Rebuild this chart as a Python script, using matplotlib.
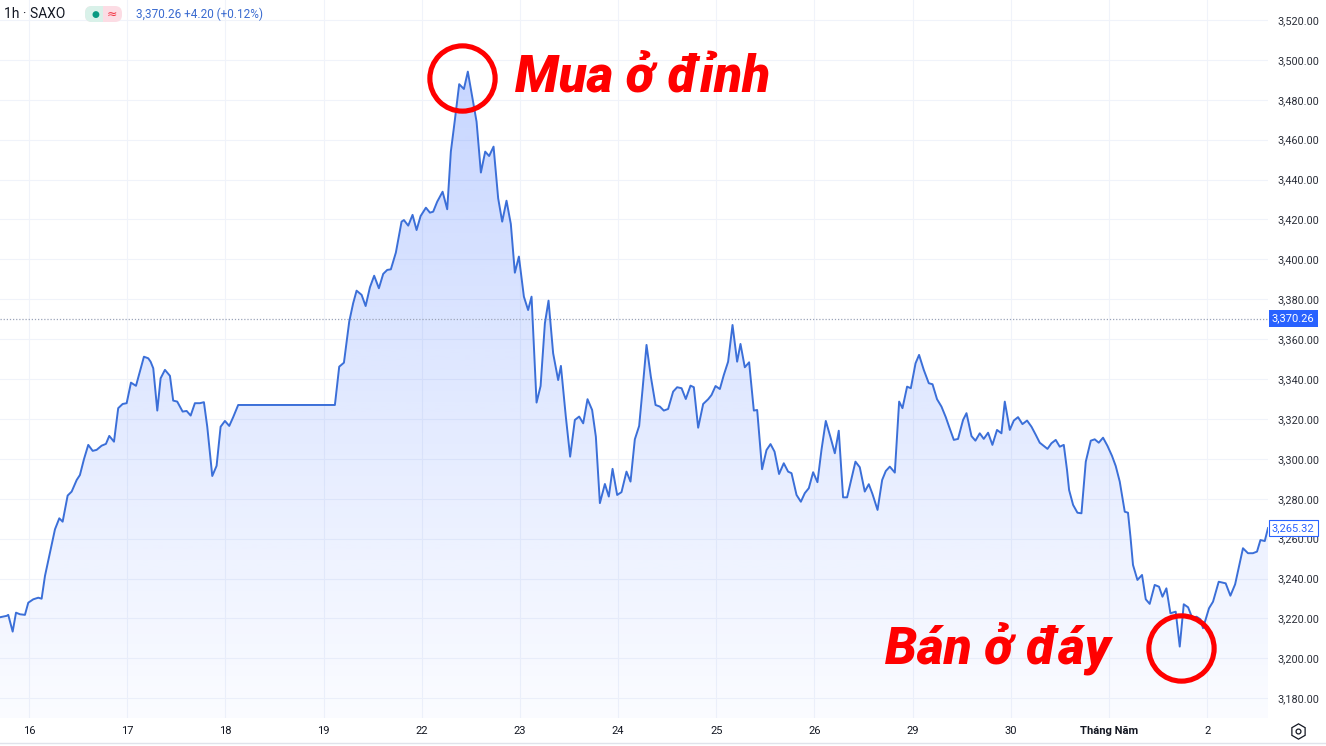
import numpy as np
import matplotlib.pyplot as plt
from matplotlib.patches import Polygon, FancyBboxPatch, Rectangle
from matplotlib.lines import Line2D
from matplotlib.transforms import offset_copy, blended_transform_factory, IdentityTransform
from matplotlib.colors import to_rgb

# 1h SAXO chart, time in trading days from the "16" tick, price in USD
t = [-0.295, -0.227, -0.211, -0.166, -0.132, -0.092, -0.041, -0.007, 0.044, 0.095,
     0.129, 0.163, 0.214, 0.265, 0.309, 0.343, 0.394, 0.435, 0.486, 0.519,
     0.560, 0.604, 0.649, 0.689, 0.740, 0.784, 0.818, 0.866, 0.909, 0.954,
     0.995, 1.039, 1.090, 1.171, 1.215, 1.239, 1.266, 1.307, 1.341, 1.385,
     1.436, 1.469, 1.510, 1.565, 1.606, 1.647, 1.690, 1.741, 1.782, 1.816,
     1.867, 1.911, 1.952, 1.996, 2.040, 2.080, 2.131, 3.116,
     3.160, 3.208, 3.262, 3.302, 3.337, 3.388, 3.429, 3.473, 3.516, 3.564,
     3.608, 3.649, 3.686, 3.737, 3.795, 3.819, 3.863, 3.907, 3.948, 3.989,
     4.043, 4.084, 4.117, 4.158, 4.213, 4.260, 4.297, 4.338, 4.382, 4.430,
     4.470, 4.508, 4.559, 4.603, 4.647, 4.687, 4.732, 4.779, 4.820, 4.864,
     4.908, 4.949, 4.990, 5.041, 5.084, 5.119, 5.170, 5.211, 5.255, 5.292,
     5.339, 5.390, 5.418, 5.468, 5.512, 5.560, 5.604, 5.645, 5.689, 5.736,
     5.774, 5.815, 5.866, 5.906, 5.944, 5.991, 6.035, 6.086, 6.127, 6.171,
     6.215, 6.249, 6.290, 6.334, 6.382, 6.426,
     6.466, 6.510, 6.561, 6.602, 6.647, 6.690, 6.738, 6.772, 6.816, 6.867,
     6.918, 6.952, 6.993, 7.037, 7.077, 7.121, 7.166, 7.213, 7.247, 7.291,
     7.335, 7.383, 7.417, 7.467, 7.512, 7.553, 7.594, 7.640, 7.688, 7.732,
     7.767, 7.818, 7.862, 7.902, 7.943, 7.987, 8.031, 8.072, 8.116, 8.164,
     8.208, 8.248, 8.292, 8.333, 8.378, 8.418, 8.462, 8.513, 8.554, 8.592,
     8.643, 8.690, 8.727, 8.768, 8.819, 8.863, 8.897, 8.944, 8.982, 9.030,
     9.066, 9.114, 9.165, 9.203, 9.249, 9.294, 9.338, 9.372, 9.420, 9.463,
     9.514, 9.549, 9.600, 9.640,
     9.684, 9.725, 9.769, 9.813, 9.860, 9.905, 9.939, 9.990, 10.031, 10.074,
     10.119, 10.166, 10.211, 10.255, 10.295, 10.336, 10.374, 10.414, 10.458, 10.499,
     10.540, 10.573, 10.594, 10.635, 10.679, 10.720, 10.764, 10.815, 10.855, 10.896,
     10.940, 10.985, 11.031, 11.069, 11.110, 11.161, 11.194, 11.219, 11.245, 11.290,
     11.337, 11.375, 11.415, 11.466, 11.510, 11.545, 11.585, 11.626, 11.680, 11.721,
     11.762, 11.806, 11.850, 11.891, 11.932, 11.958, 12.019, 12.060, 12.118, 12.189,
     12.237, 12.285, 12.365, 12.416, 12.466, 12.508, 12.543, 12.587, 12.620]

price = [3220.6, 3221.3, 3221.8, 3213.4, 3222.9, 3222.1, 3221.8, 3227.9, 3229.6, 3230.4,
         3229.9, 3241.3, 3253.0, 3264.7, 3270.2, 3268.5, 3281.6, 3283.6, 3289.4, 3291.9,
         3299.8, 3307.0, 3304.0, 3304.5, 3306.6, 3307.5, 3311.5, 3308.6, 3325.4, 3327.5,
         3327.9, 3338.2, 3336.6, 3351.2, 3350.4, 3348.7, 3345.4, 3324.2, 3340.4, 3344.6,
         3341.6, 3329.2, 3328.7, 3323.7, 3324.0, 3321.7, 3327.9, 3327.9, 3328.4, 3316.1,
         3291.4, 3296.5, 3316.1, 3319.0, 3316.5, 3320.9, 3327.0, 3327.0,
         3346.2, 3348.2, 3368.8, 3378.0, 3384.3, 3382.2, 3376.6, 3386.0, 3391.8, 3385.5,
         3392.7, 3394.7, 3395.0, 3403.4, 3418.9, 3419.7, 3416.9, 3422.3, 3414.7, 3421.7,
         3425.9, 3423.4, 3423.9, 3428.9, 3433.9, 3425.1, 3454.0, 3469.9, 3487.8, 3485.4,
         3494.1, 3483.3, 3469.0, 3443.5, 3454.0, 3451.8, 3456.5, 3430.6, 3418.9, 3429.4,
         3417.7, 3393.3, 3401.4, 3381.3, 3374.6, 3381.3, 3328.2, 3336.5, 3368.0, 3379.3,
         3352.9, 3339.5, 3346.6, 3321.2, 3301.1, 3319.5, 3321.2, 3317.8, 3329.9, 3324.5,
         3311.1, 3277.8, 3287.4, 3281.1, 3295.0, 3281.9, 3283.3, 3293.6, 3288.6, 3309.8,
         3316.5, 3334.5, 3357.1, 3341.2, 3327.0, 3326.2,
         3324.2, 3325.0, 3333.7, 3335.9, 3335.4, 3330.0, 3336.7, 3335.9, 3315.6, 3327.5,
         3329.9, 3332.0, 3336.5, 3335.0, 3342.0, 3348.7, 3367.1, 3348.7, 3357.6, 3345.9,
         3348.4, 3324.2, 3324.5, 3294.8, 3304.4, 3307.4, 3303.6, 3292.4, 3297.8, 3293.6,
         3292.8, 3281.9, 3278.5, 3282.8, 3285.3, 3293.3, 3288.3, 3304.5, 3319.0, 3310.8,
         3302.8, 3314.1, 3280.7, 3280.7, 3290.3, 3298.6, 3295.8, 3283.6, 3287.3, 3282.3,
         3274.4, 3289.4, 3293.9, 3296.1, 3293.1, 3328.7, 3325.4, 3336.2, 3335.4, 3347.9,
         3352.1, 3344.6, 3337.9, 3337.4, 3329.9, 3326.2, 3320.9, 3316.1, 3309.5, 3310.0,
         3319.5, 3322.9, 3311.4, 3309.1,
         3312.8, 3310.0, 3313.1, 3307.0, 3314.5, 3312.8, 3328.7, 3314.5, 3319.2, 3320.9,
         3317.4, 3319.2, 3316.1, 3312.0, 3308.1, 3306.5, 3305.0, 3307.8, 3309.5, 3306.1,
         3307.0, 3294.4, 3284.4, 3276.9, 3273.0, 3272.7, 3298.6, 3309.1, 3309.8, 3308.1,
         3310.6, 3306.5, 3301.5, 3296.4, 3288.6, 3273.5, 3273.0, 3261.0, 3246.8, 3239.3,
         3241.8, 3229.6, 3227.3, 3236.8, 3235.9, 3230.9, 3235.1, 3222.6, 3223.4, 3205.9,
         3227.1, 3225.6, 3220.1, 3220.9, 3219.6, 3215.1, 3225.1, 3228.4, 3238.4, 3237.6,
         3231.4, 3237.1, 3255.2, 3252.7, 3252.7, 3253.5, 3259.3, 3258.8, 3265.3]

day_labels = ['16', '17', '18', '19', '22', '23', '24', '25', '26', '29', '30', 'Tháng Năm', '2']
y_ticks = list(range(3180, 3521, 20))
last_price = 3370.26
close_price = 3265.32
header_change = '+4.20 (+0.12%)'

t = np.array(t)
price = np.array(price)

W, H = 1326, 746
fig = plt.figure(figsize=(W / 100, H / 100), dpi=100)
fig.patch.set_facecolor('white')
ax = fig.add_axes([0, 28 / H, 1268 / W, 718 / H])
ax.set_facecolor('white')

x0, x1 = -0.295, 12.62
y0, y1 = 3170.1, 3530.0
ui = ['Roboto', 'DejaVu Sans']

# gradient area under the line
blue = to_rgb('#2962ff')
grad = np.zeros((256, 1, 4))
grad[..., :3] = blue
grad[..., 3] = np.linspace(0.26, 0.02, 256).reshape(-1, 1)
im = ax.imshow(grad, aspect='auto', extent=[x0, x1, y0, price.max()],
               origin='upper', zorder=1, interpolation='bilinear')
verts = np.vstack([np.column_stack([t, price]), [[t[-1], y0], [t[0], y0]]])
area = Polygon(verts, closed=True, facecolor='none', edgecolor='none')
ax.add_patch(area)
im.set_clip_path(area)

ax.plot(t, price, color='#3b6fd8', lw=1.4, zorder=3)

ax.axhline(last_price, color='#9aa3b8', lw=0.9, ls=(0, (1, 1.5)), zorder=2)

ax.set_xlim(x0, x1)
ax.set_ylim(y0, y1)
for s in ax.spines.values():
    s.set_visible(False)

ax.set_xticks(range(len(day_labels)))
ax.set_xticklabels(day_labels, fontsize=8, color='#131722', family=ui)
ax.get_xticklabels()[11].set_fontweight('bold')
ax.yaxis.tick_right()
ax.set_yticks(y_ticks)
ax.set_yticklabels([f'{v:,.2f}' for v in y_ticks], fontsize=7.8, color='#2a2e39', family=ui)
ax.tick_params(axis='x', length=0, pad=6)
ax.tick_params(axis='y', length=0, pad=6.5)
for lab in ax.get_yticklabels():
    lab.set_horizontalalignment('left')
ax.grid(True, color='#f0f3fa', lw=0.8, zorder=0)
ax.set_axisbelow(True)

# price labels on the scale
bt = blended_transform_factory(ax.transAxes, ax.transData)
ax.text(1 + 4 / 1268, last_price, f'{last_price:,.2f}', transform=bt, ha='left', va='center',
        fontsize=8, color='white', zorder=6, clip_on=False, family=ui,
        bbox=dict(boxstyle='square,pad=0.3', fc='#2962ff', ec='none'))
ax.text(1 + 4 / 1268, close_price, f'{close_price:,.2f}', transform=bt, ha='left', va='center',
        fontsize=8, color='#2962ff', zorder=6, clip_on=False, family=ui,
        bbox=dict(boxstyle='square,pad=0.3', fc='white', ec='#2962ff', lw=0.8))

# annotations: buy at the top, sell at the bottom
i_hi = int(price.argmax())
i_lo = int(price.argmin())
circ = dict(marker='o', ms=47, mfc='none', mec='#ff0000', mew=3.7, ls='none', zorder=7)
ax.plot(t[i_hi], price[i_hi], transform=offset_copy(ax.transData, fig=fig, x=-4.5, y=-4.5, units='points'), **circ)
ax.plot(t[i_lo], price[i_lo], transform=offset_copy(ax.transData, fig=fig, x=0.7, y=-1, units='points'), **circ)

txt = dict(color='#ff0000', fontsize=37, fontweight='heavy', fontstyle='italic',
           family=ui, va='center', zorder=7)
ax.annotate('Mua ở đỉnh', (t[i_hi], price[i_hi]), xytext=(34, -4), textcoords='offset points',
            ha='left', **txt)
ax.annotate('Bán ở đáy', (t[i_lo], price[i_lo]), xytext=(-50, -1), textcoords='offset points',
            ha='right', **txt)

# header (pixel coordinates, origin bottom-left)
px = IdentityTransform()
fy = 1 - 14 / H
fig.text(4 / W, fy, '1h · SAXO', fontsize=10, color='#131722', va='center', family=ui)
fig.add_artist(FancyBboxPatch((85, H - 22), 37, 16, boxstyle='round,pad=0,rounding_size=7',
                              fc='#fcdce4', ec='none', transform=px))
fig.add_artist(FancyBboxPatch((85, H - 22), 18, 16, boxstyle='round,pad=0,rounding_size=7',
                              fc='#d9f1e9', ec='none', transform=px))
fig.add_artist(Rectangle((96, H - 22), 7, 16, fc='#d9f1e9', ec='none', transform=px))
fig.text(95 / W, fy, '●', fontsize=6.5, color='#089981', va='center', ha='center')
fig.text(112 / W, fy, '≈', fontsize=9, color='#f23645', va='center', ha='center')
fig.text(136 / W, fy, f'{last_price:,.2f} {header_change}', fontsize=8.5, color='#3a6bd0',
         va='center', family=ui)

# settings icon and bottom border
fig.add_artist(Line2D([1298 / W], [15 / H], marker='h', ms=11, mfc='none', mec='#131722',
                      mew=0.9, transform=fig.transFigure))
fig.add_artist(Line2D([1298 / W], [15 / H], marker='o', ms=3.5, mfc='none', mec='#131722',
                      mew=0.9, transform=fig.transFigure))
fig.add_artist(Line2D([0, 1], [3 / H, 3 / H], color='#e0e3eb', lw=1, transform=fig.transFigure))

fig.savefig('out.png', dpi=100)
